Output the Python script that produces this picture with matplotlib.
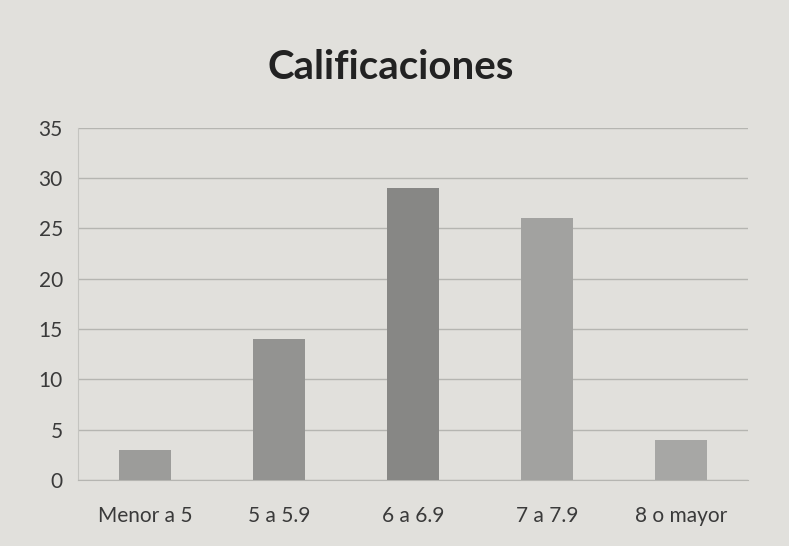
import matplotlib

matplotlib.use("Agg")
import matplotlib.pyplot as plt

categories = ["Menor a 5", "5 a 5.9", "6 a 6.9", "7 a 7.9", "8 o mayor"]
values = [3, 14, 29, 26, 4]
yticks = [0, 5, 10, 15, 20, 25, 30, 35]

# the photo lighting makes the bars look slightly different shades
bar_colors = ["#9c9c9a", "#939391", "#878785", "#a2a2a0", "#a7a7a5"]
BG = "#e1e0dc"

plt.rcParams["font.family"] = ["Lato", "DejaVu Sans"]

fig = plt.figure(figsize=(7.89, 5.46), dpi=100, facecolor=BG)
ax = fig.add_axes([0.099, 0.121, 0.849, 0.645], facecolor=BG)

x = range(len(categories))
ax.bar(x, values, width=0.39, color=bar_colors, zorder=3)

ax.set_xlim(-0.5, len(categories) - 0.5)
ax.set_ylim(0, 35)
ax.set_yticks(yticks)
ax.set_xticks(list(x))
ax.set_xticklabels(categories)
ax.grid(axis="y", color="#b5b5b1", lw=1.0, zorder=0)
ax.tick_params(axis="both", length=0, labelsize=15, colors="#3a3a3a")
ax.tick_params(axis="y", pad=11)
ax.tick_params(axis="x", pad=19)

for side in ["top", "right"]:
    ax.spines[side].set_visible(False)
ax.spines["left"].set_color("#c4c4c0")
ax.spines["bottom"].set_color("#b5b5b1")

fig.text(0.495, 0.877, "Calificaciones", ha="center", va="center",
         fontsize=29, fontweight="bold", color="#222222")

fig.savefig("out.png", dpi=100, facecolor=BG)
